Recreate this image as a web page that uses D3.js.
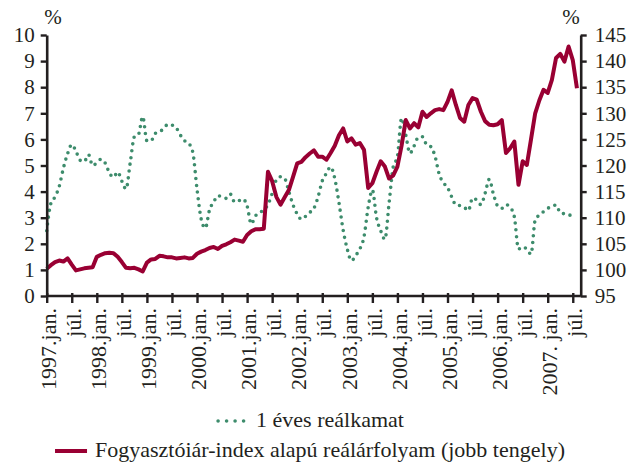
<!DOCTYPE html>
<html>
<head>
<meta charset="utf-8">
<script src="https://cdn.jsdelivr.net/npm/d3@7"></script>
<style>
    body { margin: 0; background: #fff; }
    svg { display: block; }
</style>
</head>
<body>
<div id="chart"></div>
<script>
// Havi adatok, 1997. jan. = 0. hónap
var realkamat = [
    2.50, 3.55, 3.80, 4.20, 4.90, 5.45, 5.80, 5.55, 5.20, 5.15, 5.42, 5.00,
    5.10, 5.24, 5.10, 4.72, 4.55, 4.75, 4.40, 4.10, 5.10, 6.10, 6.20, 6.87,
    5.95, 5.95, 6.23, 6.30, 6.40, 6.58, 6.55, 6.45, 6.17, 5.95, 5.85, 5.50,
    4.10, 2.95, 2.60, 3.30, 3.60, 3.84, 3.80, 3.74, 3.90, 3.60, 3.65, 3.72,
    3.45, 2.76, 3.07, 3.19, 3.30, 3.50, 3.93, 4.45, 4.57, 4.50, 4.00, 3.49,
    3.14, 2.94, 3.05, 3.20, 3.36, 3.80, 4.41, 4.70, 4.95, 4.50, 3.58, 2.53,
    1.79, 1.35, 1.55, 1.80, 2.27, 3.40, 4.06, 3.00, 2.50, 2.17, 3.55, 4.95,
    5.34, 6.81, 6.17, 5.47, 5.75, 6.08, 6.10, 5.79, 5.72, 5.36, 4.67, 4.34,
    4.16, 3.80, 3.49, 3.46, 3.40, 3.27, 3.75, 3.68, 3.50, 3.93, 4.47, 3.90,
    3.45, 3.36, 3.50, 3.40, 3.04, 1.80, 1.89, 1.79, 1.60, 2.91, 3.10, 3.23,
    3.36, 3.42, 3.49, 3.19, 3.15, 3.12, 3.04
];

var realarfolyam = [
    100.2, 100.9, 101.5, 101.8, 101.6, 102.2, 101.0, 99.9, 100.1, 100.3, 100.4, 100.5,
    102.5, 102.9, 103.2, 103.3, 103.2, 102.5, 101.5, 100.4, 100.3, 100.4, 100.1, 99.7,
    101.4, 102.0, 102.1, 102.7, 102.6, 102.4, 102.4, 102.2, 102.3, 102.4, 102.2, 102.3,
    103.1, 103.5, 103.8, 104.2, 104.4, 104.0, 104.6, 104.9, 105.3, 105.8, 105.6, 105.4,
    106.7, 107.4, 107.8, 107.8, 107.9, 118.8, 117.0, 114.0, 112.5, 113.9, 115.3, 117.8,
    120.4, 120.7, 121.6, 122.3, 122.9, 121.7, 121.7, 121.1, 122.4, 123.8, 125.8, 127.1,
    124.6, 125.2, 124.0, 124.3, 123.0, 115.7, 116.6, 118.8, 120.8, 119.8, 117.5, 118.1,
    119.8, 123.8, 128.7, 127.1, 128.1, 127.3, 130.3, 129.3, 130.0, 130.6, 130.8, 130.6,
    132.2, 134.4, 131.6, 129.1, 128.4, 131.6, 132.9, 132.6, 130.3, 128.5, 127.8, 127.7,
    127.9, 128.7, 122.4, 123.3, 124.6, 116.3, 120.8, 120.1, 125.0, 130.0, 132.5, 134.5,
    133.9, 136.4, 140.6, 141.4, 139.9, 142.8, 140.2, 134.8
];

var xTickLabels = [
    "1997.jan.", "júl.", "1998.jan.", "júl.", "1999.jan.", "júl.",
    "2000.jan.", "júl.", "2001.jan.", "júl.", "2002.jan.", "júl.",
    "2003.jan.", "júl.", "2004.jan.", "júl.", "2005.jan.", "júl.",
    "2006.jan.", "júl.", "2007. jan.", "júl."
];
var leftTicks = [0, 1, 2, 3, 4, 5, 6, 7, 8, 9, 10];
var rightTicks = [95, 100, 105, 110, 115, 120, 125, 130, 135, 140, 145];

var seriesNames = ["1 éves reálkamat", "Fogyasztóiár-index alapú reálárfolyam (jobb tengely)"];
var seriesColors = ["#3d8c6c", "#990033"];

var W = 639, H = 467;
var plot = {left: 46.7, right: 580.7, top: 35, bottom: 296};
var FONT = "'Liberation Serif', serif";
var axisColor = "#231f20";

var svg = d3.select("#chart").append("svg")
    .attr("width", W)
    .attr("height", H);

var xScale = d3.scaleLinear().domain([0, 127.9]).range([plot.left, plot.right]);
var yLeft = d3.scaleLinear().domain([0, 10]).range([plot.bottom, plot.top]);
var yRight = d3.scaleLinear().domain([95, 145]).range([plot.bottom, plot.top]);

// vonalak
var lineLeft = d3.line()
    .x(function (d, i) { return xScale(i); })
    .y(function (d) { return yLeft(d); })
    .curve(d3.curveMonotoneX);
var lineRight = d3.line()
    .x(function (d, i) { return xScale(i); })
    .y(function (d) { return yRight(d); });

svg.append("path")
    .datum(realkamat)
    .attr("fill", "none")
    .attr("stroke", seriesColors[0])
    .attr("stroke-width", 3.6)
    .attr("stroke-linecap", "round")
    .attr("stroke-dasharray", "0 6.8")
    .attr("d", lineLeft);

svg.append("path")
    .datum(realarfolyam)
    .attr("fill", "none")
    .attr("stroke", seriesColors[1])
    .attr("stroke-width", 4)
    .attr("stroke-linejoin", "round")
    .attr("d", lineRight);

// tengelyek
function styleAxis(g, size) {
    g.select(".domain").attr("stroke", axisColor).attr("stroke-width", 2.6);
    g.selectAll(".tick line").attr("stroke", axisColor).attr("stroke-width", 2.4);
    g.selectAll(".tick text")
        .style("fill", axisColor)
        .style("font-family", FONT)
        .style("font-size", size + "px");
}

var gLeft = svg.append("g")
    .attr("transform", "translate(" + plot.left + ",0)")
    .call(d3.axisLeft(yLeft).tickValues(leftTicks).tickSize(6).tickSizeOuter(0).tickPadding(6));
styleAxis(gLeft, 21);

var gRight = svg.append("g")
    .attr("transform", "translate(" + plot.right + ",0)")
    .call(d3.axisRight(yRight).tickValues(rightTicks).tickSize(6).tickSizeOuter(0).tickPadding(8));
styleAxis(gRight, 21);

var xTickValues = xTickLabels.map(function (d, i) { return i * 6; });
var gBottom = svg.append("g")
    .attr("transform", "translate(0," + plot.bottom + ")")
    .call(d3.axisBottom(xScale).tickValues(xTickValues).tickSize(7).tickSizeOuter(0)
        .tickFormat(function (d, i) { return xTickLabels[i]; }));
styleAxis(gBottom, 22);
gBottom.select(".domain").attr("d", "M" + plot.left + ",0H" + plot.right);
gBottom.selectAll(".tick line").attr("y1", -3);
gBottom.selectAll(".tick text")
    .attr("text-anchor", "end")
    .attr("transform", "rotate(-90)")
    .attr("x", -12)
    .attr("y", 1)
    .attr("dy", "0.35em");

// % feliratok
[53, 571].forEach(function (x) {
    svg.append("text").attr("x", x).attr("y", 24).attr("text-anchor", "middle")
        .style("font-family", FONT).style("font-size", "21px").style("fill", axisColor)
        .text("%");
});

// jelmagyarázat
var legendRows = [{y: 427, dotted: true}, {y: 457, dotted: false}];
var legendCenter = 310;
legendRows.forEach(function (row, i) {
    var g = svg.append("g");
    var t = g.append("text")
        .attr("y", row.y)
        .style("font-family", FONT)
        .style("font-size", "22px")
        .style("fill", axisColor)
        .text(seriesNames[i]);
    var tw = t.node().getComputedTextLength();
    var total = 32 + 8 + tw;
    var x0 = legendCenter - total / 2;
    t.attr("x", x0 + 40);
    g.append("line")
        .attr("x1", x0 + (row.dotted ? 2 : 0)).attr("x2", x0 + 32)
        .attr("y1", row.y - 6).attr("y2", row.y - 6)
        .attr("stroke", seriesColors[i])
        .attr("stroke-width", row.dotted ? 3.6 : 4)
        .attr("stroke-linecap", row.dotted ? "round" : "butt")
        .attr("stroke-dasharray", row.dotted ? "0 8.5" : null);
});
</script>
</body>
</html>
